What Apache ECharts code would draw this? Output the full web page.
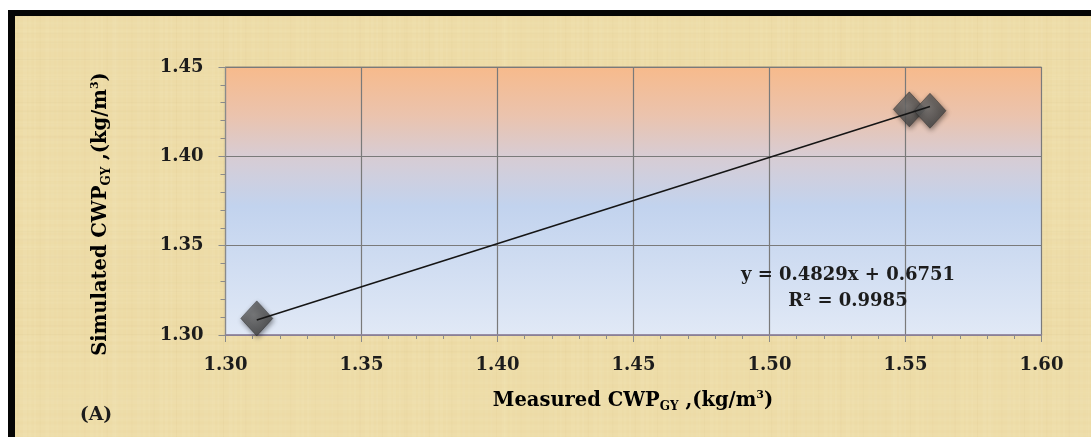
<!DOCTYPE html>
<html><head><meta charset="utf-8">
<script src="https://cdn.jsdelivr.net/npm/echarts@6/dist/echarts.min.js"></script>
<style>html,body{margin:0;padding:0;background:#fff}#c{width:1091px;height:437px}</style>
</head><body><div id="c"></div>
<script>
// ---- data ----
const measured  = [1.3115, 1.5514, 1.5590];
const simulated = [1.3093, 1.4263, 1.4255];
const trendX = [1.3115, 1.5590];
const trendY = [1.3084, 1.4279];
const xTicks = ['1.30','1.35','1.40','1.45','1.50','1.55','1.60'];
const yTicks = ['1.30','1.35','1.40','1.45'];
const equationText = 'y = 0.4829x + 0.6751';
const r2Text = 'R² = 0.9985';
const panelLabel = '(A)';
const xTitle = ['Measured CWP', 'GY', ' ,(kg/m', '3', ')'];
const yTitle = ['Simulated CWP', 'GY', ' ,(kg/m', '3', ')'];

// ---- decorative parchment texture (deterministic) ----
function parchment(w, h) {
  const c = document.createElement('canvas'); c.width = w; c.height = h;
  const g = c.getContext('2d');
  g.fillStyle = '#eddba6'; g.fillRect(0, 0, w, h);
  for (let i = 0; i < 200; i++) {
    const x = (i * 97.31) % w, bw = 1 + (i * 7) % 4;
    const a = 0.03 + 0.04 * Math.abs(Math.sin(i * 1.73));
    g.fillStyle = (i % 4) ? 'rgba(255,250,225,' + a + ')' : 'rgba(185,155,90,' + (a * 0.7) + ')';
    g.fillRect(x, 0, bw, h);
  }
  for (let i = 0; i < 120; i++) {
    const y = (i * 53.7) % h, bh = 1 + (i * 5) % 4;
    const a = 0.03 + 0.04 * Math.abs(Math.cos(i * 2.11));
    g.fillStyle = (i % 4) ? 'rgba(255,250,225,' + a + ')' : 'rgba(180,150,90,' + (a * 0.7) + ')';
    g.fillRect(0, y, w, bh);
  }
  return c;
}

const FONT = 'DejaVu Serif';
const TXT = '#1c1c1c';
function richTitle(size) {
  return {
    a: { fontFamily: FONT, fontWeight: 'bold', fontSize: size, color: TXT, lineHeight: 28, verticalAlign: 'middle' },
    s: { fontFamily: FONT, fontWeight: 'bold', fontSize: Math.round(size * 0.62), color: TXT, lineHeight: 28, verticalAlign: 'bottom', padding: [0, 0, 2, 0] },
    p: { fontFamily: FONT, fontWeight: 'bold', fontSize: Math.round(size * 0.55), color: TXT, lineHeight: 28, verticalAlign: 'top', padding: [3, 0, 0, 0] }
  };
}
function titleStr(t) { return '{a|' + t[0] + '}{s|' + t[1] + '}{a|' + t[2] + '}{p|' + t[3] + '}{a|' + t[4] + '}'; }

const chart = echarts.init(document.getElementById('c'), null, { renderer: 'canvas' });
const tex = parchment(1076, 421);

const option = {
  backgroundColor: '#ffffff',
  animation: false,
  graphic: [
    { type: 'rect', z: -100, shape: { x: 8, y: 10, width: 1083, height: 427 }, style: { fill: '#050505' } },
    { type: 'image', z: -99, style: { image: tex, x: 15, y: 16, width: 1076, height: 421 } },
    { type: 'text', z: 10, x: 101, y: 214, rotation: Math.PI / 2,
      style: { text: titleStr(yTitle), rich: richTitle(19.5), align: 'center', verticalAlign: 'middle' } },
    { type: 'text', z: 10, x: 633, y: 401,
      style: { text: titleStr(xTitle), rich: richTitle(19.5), align: 'center', verticalAlign: 'middle' } },
    { type: 'text', z: 10, x: 848, y: 275,
      style: { text: equationText, fontFamily: FONT, fontWeight: 'bold', fontSize: 18, fill: TXT, align: 'center', verticalAlign: 'middle' } },
    { type: 'text', z: 10, x: 848, y: 301,
      style: { text: r2Text, fontFamily: FONT, fontWeight: 'bold', fontSize: 18, fill: TXT, align: 'center', verticalAlign: 'middle' } },
    { type: 'text', z: 10, x: 96, y: 415,
      style: { text: panelLabel, fontFamily: FONT, fontWeight: 'bold', fontSize: 19, fill: TXT, align: 'center', verticalAlign: 'middle' } }
  ],
  grid: {
    left: 225.5, right: 49.5, top: 67, bottom: 102,
    show: true, borderColor: '#8d8279', borderWidth: 1,
    backgroundColor: new echarts.graphic.LinearGradient(0, 0, 0, 1, [
      { offset: 0, color: '#f7ba8b' },
      { offset: 0.18, color: '#ebc3ad' },
      { offset: 0.33, color: '#d8ccd3' },
      { offset: 0.52, color: '#c2d3ee' },
      { offset: 1, color: '#e1e9f6' }
    ])
  },
  xAxis: {
    type: 'value', min: +xTicks[0], max: +xTicks[xTicks.length - 1], interval: 0.05,
    axisLine: { show: true, lineStyle: { color: '#8e82a0', width: 1.5 } },
    axisTick: { show: true, inside: false, length: 7, lineStyle: { color: '#8a8a8a' } },
    minorTick: { show: true, splitNumber: 5, length: 4, lineStyle: { color: '#8a8a8a' } },
    splitLine: { show: true, lineStyle: { color: '#7a7a7a', width: 1.2 } },
    axisLabel: { margin: 21, fontFamily: FONT, fontWeight: 'bold', fontSize: 18, color: TXT,
      formatter: v => xTicks.find(t => Math.abs(+t - v) < 1e-6) || '' }
  },
  yAxis: {
    type: 'value', min: +yTicks[0], max: +yTicks[yTicks.length - 1], interval: 0.05,
    axisLine: { show: true, lineStyle: { color: '#8a8a8a', width: 1.2 } },
    axisTick: { show: true, inside: false, length: 7, lineStyle: { color: '#8a8a8a' } },
    minorTick: { show: true, splitNumber: 5, length: 5, lineStyle: { color: '#8a8a8a' } },
    splitLine: { show: true, lineStyle: { color: '#7a7a7a', width: 1.2 } },
    axisLabel: { margin: 22, fontFamily: FONT, fontWeight: 'bold', fontSize: 18, color: TXT,
      formatter: v => yTicks.find(t => Math.abs(+t - v) < 1e-6) || '' }
  },
  series: [
    {
      type: 'scatter', z: 2,
      data: measured.map((x, i) => [x, simulated[i]]),
      symbol: 'diamond', symbolSize: [32, 35],
      itemStyle: {
        color: new echarts.graphic.RadialGradient(0.4, 0.4, 0.7, [
          { offset: 0, color: '#727272' }, { offset: 1, color: '#3a3a3a' }
        ]),
        borderColor: '#2e2e2e', borderWidth: 0.6,
        shadowBlur: 5, shadowColor: 'rgba(0,0,0,0.55)', shadowOffsetX: 1, shadowOffsetY: 2
      }
    },
    {
      type: 'line', z: 3, symbol: 'none', silent: true,
      data: trendX.map((x, i) => [x, trendY[i]]),
      lineStyle: { color: '#151515', width: 1.6 }
    }
  ]
};
chart.setOption(option);
</script>
</body></html>
